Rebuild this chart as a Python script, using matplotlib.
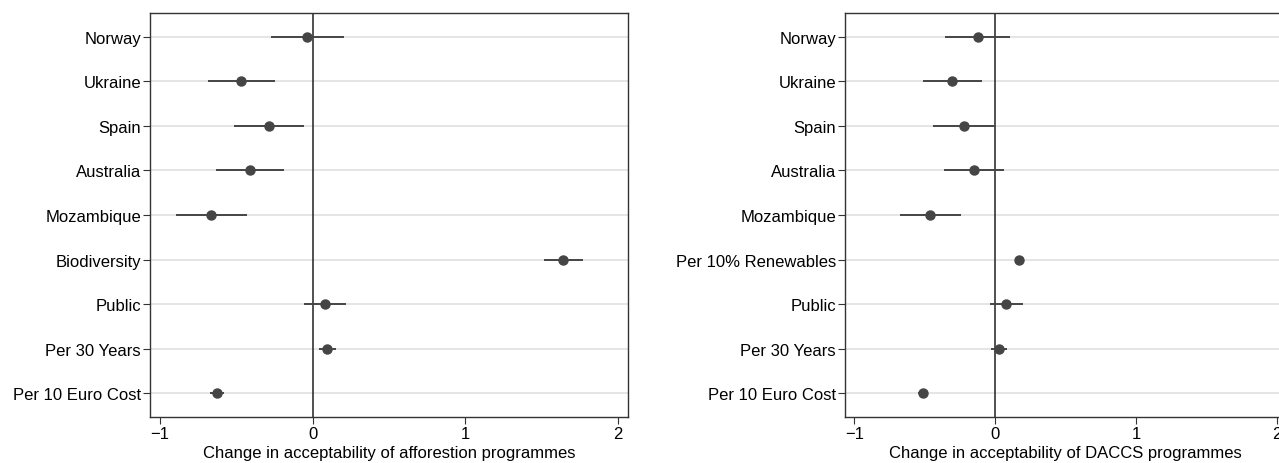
import numpy as np
import matplotlib.pyplot as plt

plt.rcParams['font.family'] = ['Liberation Sans', 'DejaVu Sans']

# afforestation panel
aff_labels = ['Norway', 'Ukraine', 'Spain', 'Australia', 'Mozambique',
              'Biodiversity', 'Public', 'Per 30 Years', 'Per 10 Euro Cost']
aff_est = [-0.035, -0.472, -0.284, -0.410, -0.665, 1.641, 0.078, 0.094, -0.627]
aff_lo = [-0.276, -0.689, -0.515, -0.633, -0.893, 1.515, -0.059, 0.038, -0.673]
aff_hi = [0.206, -0.249, -0.054, -0.185, -0.432, 1.769, 0.217, 0.153, -0.582]

# DACCS panel
dac_labels = ['Norway', 'Ukraine', 'Spain', 'Australia', 'Mozambique',
              'Per 10% Renewables', 'Public', 'Per 30 Years', 'Per 10 Euro Cost']
dac_est = [-0.124, -0.303, -0.220, -0.150, -0.460, 0.171, 0.075, 0.026, -0.514]
dac_lo = [-0.355, -0.512, -0.439, -0.361, -0.676, 0.150, -0.040, -0.029, -0.549]
dac_hi = [0.107, -0.092, 0.000, 0.061, -0.240, 0.192, 0.197, 0.084, -0.477]

col = '#454545'

def panel(ax, labels, est, lo, hi, xlabel):
    n = len(labels)
    y = np.arange(n, 0, -1)
    for yy in y:
        ax.axhline(yy, color='#e3e3e3', lw=1.3, zorder=0)
    ax.axvline(0, color='#222222', lw=1.1, zorder=1)
    ax.hlines(y, lo, hi, color=col, lw=1.4, zorder=2)
    ax.plot(est, y, 'o', color=col, ms=6.5, zorder=3)
    ax.set_yticks(y)
    ax.set_yticklabels(labels)
    ax.set_ylim(0.47, n + 0.53)
    ax.set_xlim(-1.066, 2.066)
    ax.set_xticks([-1, 0, 1, 2])
    ax.set_xticklabels(['\u22121', '0', '1', '2'])
    ax.set_xlabel(xlabel, fontsize=12, labelpad=3)
    ax.tick_params(axis='both', labelsize=12, length=5, width=0.8,
                   color='#333333', pad=1.5)
    for s in ax.spines.values():
        s.set_color('#333333')
        s.set_linewidth(1.0)

fig = plt.figure(figsize=(12.79, 4.64), dpi=100)
ax1 = fig.add_axes([0.1173, 0.0991, 0.3737, 0.8707])
ax2 = fig.add_axes([0.6607, 0.0991, 0.3448, 0.8707])

panel(ax1, aff_labels, aff_est, aff_lo, aff_hi,
      'Change in acceptability of afforestion programmes')
panel(ax2, dac_labels, dac_est, dac_lo, dac_hi,
      'Change in acceptability of DACCS programmes')

fig.savefig('out.png', dpi=100)
